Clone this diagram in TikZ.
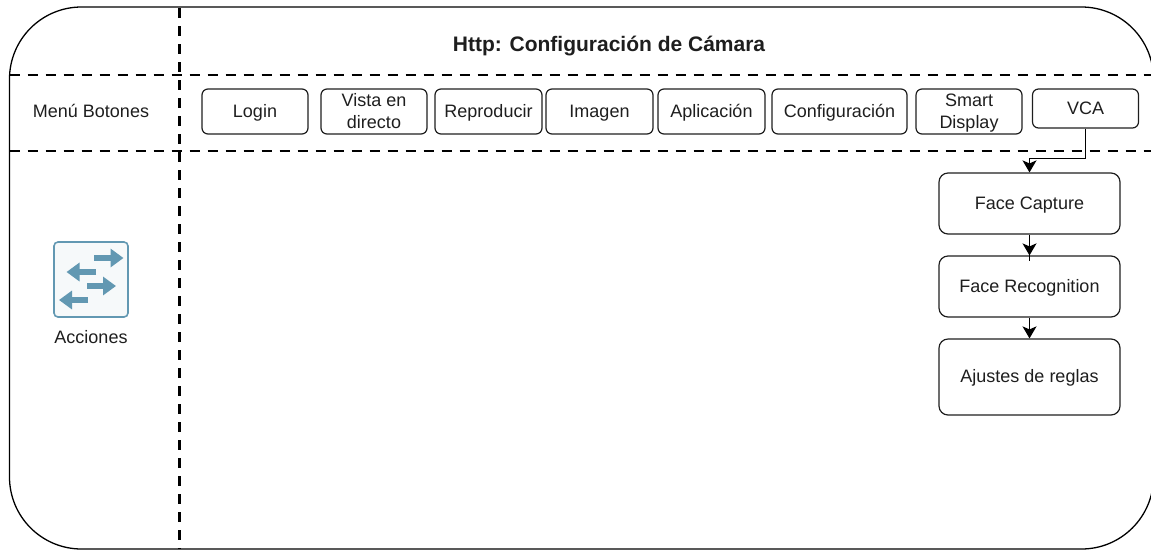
\documentclass[tikz,border=0pt]{standalone}
\usepackage{fontspec}
\setmainfont{Liberation Sans}
\usetikzlibrary{positioning,calc,arrows.meta}
\definecolor{iconblue}{RGB}{98,152,178}
\definecolor{inkgray}{RGB}{30,30,30}
\tikzset{
  menubox/.style={draw=inkgray,rounded corners=6pt,line width=1.2pt,minimum height=45pt,
    align=center,inner sep=0pt,font=\fontsize{18}{22}\selectfont,text=inkgray,
    text height=14pt,text depth=3pt},
  twolines/.style={text height=37pt,text depth=4pt},
  stepbox/.style={draw=inkgray,rounded corners=9pt,line width=1.2pt,minimum width=181pt,
    align=center,font=\fontsize{18}{22}\selectfont,text=inkgray,
    text height=14pt,text depth=3pt},
  plain/.style={inner sep=0pt,font=\fontsize{18}{22}\selectfont,text=inkgray,
    text height=14pt,text depth=3pt},
  divider/.style={line width=2.8pt,dash pattern=on 10pt off 8pt},
  link/.style={line width=1.3pt,-{Stealth[length=12pt,width=14pt,inset=3pt]}},
  iconarrow/.style={iconblue,line width=6pt,-{Triangle[length=13pt,width=18pt]}}
}
\begin{document}
\begin{tikzpicture}[x=1pt,y=-1pt]
\useasboundingbox (0,0) rectangle (1151,550);
% Outer frame, cut off by the page at the right
\begin{scope}
\clip (0,0) rectangle (1151,550);
\draw[line width=1.3pt,rounded corners=72pt] (9.5,7) rectangle (1153.5,549);
\end{scope}
% Dashed dividers
\draw[divider] (9.5,75) -- (1151,75);
\draw[divider] (9.5,151) -- (1151,151);
\draw[divider] (179.5,8) -- (179.5,549);
% Title and row labels
\node[plain,font=\fontsize{21}{22}\selectfont\bfseries] (title) at (609,46) {Http: Configuración de Cámara};
\node[plain] (menu) at (91,111.5) {Menú Botones};
% Menu row
\node[menubox,minimum width=106pt] (login) at (255,111.5) {Login};
\node[menubox,twolines,minimum width=106pt] (vista) at (374,111.5) {Vista en\\directo};
\node[menubox,minimum width=107pt] (repro) at (488.5,111.5) {Reproducir};
\node[menubox,minimum width=107pt] (imagen) at (599.5,111.5) {Imagen};
\node[menubox,minimum width=107pt] (aplic) at (711.5,111.5) {Aplicación};
\node[menubox,minimum width=135pt] (config) at (839.5,111.5) {Configuración};
\node[menubox,twolines,minimum width=106pt] (smart) at (969,111.5) {Smart\\Display};
\node[menubox,minimum width=106pt,minimum height=39pt] (vca) at (1085.5,108.5) {VCA};
% VCA column
\node[stepbox,minimum height=61pt] (capture) at (1029.5,203.5) {Face Capture};
\node[stepbox,minimum height=61pt] (recog) at (1029.5,286.5) {Face Recognition};
\node[stepbox,minimum height=76pt] (ajustes) at (1029.5,377) {Ajustes de reglas};
\draw[link] (vca.south) -- ++(0,30) -| (capture.north);
\draw[link] (capture.south) -- (recog.north);
\draw[line width=1.3pt] (recog.north) -- +(0,6);
\draw[link] (recog.south) -- (ajustes.north);
% Acciones icon
\draw[iconblue,line width=1.6pt,fill=iconblue!6,rounded corners=4pt] (54,242) rectangle (128,317);
\draw[iconarrow] (94,258) -- (123.5,258);
\draw[iconarrow] (96,272) -- (66.5,272);
\draw[iconarrow] (87,286) -- (116,286);
\draw[iconarrow] (88,300) -- (59,300);
\node[plain] (acciones) at (91,337.8) {Acciones};
\end{tikzpicture}
\end{document}
